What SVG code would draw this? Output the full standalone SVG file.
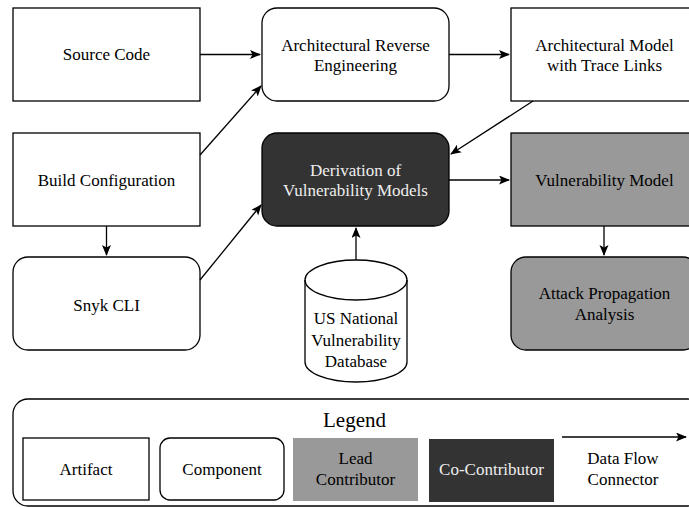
<svg xmlns="http://www.w3.org/2000/svg" width="689" height="507" viewBox="0 0 689 507">
<style>
.b{fill:#fff;stroke:#000;stroke-width:1.3}
.g{fill:#999;stroke:#000;stroke-width:1.3}
.d{fill:#333;stroke:#000;stroke-width:1.3}
.t{font-family:'Liberation Serif','DejaVu Serif',serif;font-size:17px;fill:#000;text-anchor:middle}
.lg{font-size:21px}
.w{fill:#eee}
.c{fill:none;stroke:#000;stroke-width:1.3}
</style>
<defs>
<marker id="ah" markerUnits="userSpaceOnUse" markerWidth="12" markerHeight="10" refX="10" refY="4.5" orient="auto">
<path d="M0,0 L11,4.5 L0,9 L2.5,4.5 Z" fill="#000"/>
</marker>
</defs>
<rect width="689" height="507" fill="#fff"/>
<g id="source-code"><rect class="b" x="13" y="8" width="187" height="93"/><text class="t" x="106.5" y="60">Source Code</text></g>
<g id="arch-re"><rect class="b" x="262" y="8" width="187" height="93" rx="15"/><text class="t" x="355.5" y="51">Architectural Reverse</text><text class="t" x="355.5" y="71">Engineering</text></g>
<g id="arch-model"><rect class="b" x="511" y="8" width="187" height="93"/><text class="t" x="604.5" y="51">Architectural Model</text><text class="t" x="604.5" y="71">with Trace Links</text></g>
<g id="build-config"><rect class="b" x="13" y="133" width="187" height="93"/><text class="t" x="106.5" y="186">Build Configuration</text></g>
<g id="derivation"><rect class="d" x="262" y="133" width="187" height="93" rx="15"/><text class="t w" x="355.5" y="176">Derivation of</text><text class="t w" x="355.5" y="196">Vulnerability Models</text></g>
<g id="vuln-model"><rect class="g" x="511" y="133" width="187" height="93"/><text class="t" x="604.5" y="186">Vulnerability Model</text></g>
<g id="snyk"><rect class="b" x="13" y="257" width="187" height="93" rx="15"/><text class="t" x="106.5" y="311">Snyk CLI</text></g>
<g id="attack"><rect class="g" x="511" y="257" width="187" height="93" rx="15"/><text class="t" x="604.5" y="299">Attack Propagation</text><text class="t" x="604.5" y="320">Analysis</text></g>
<g id="nvd"><path class="b" d="M305,280 A51,20 0 0 1 407,280 L407,362 A51,20 0 0 1 305,362 Z"/><path class="c" d="M305,280 A51,20 0 0 0 407,280"/><text class="t" x="356" y="324">US National</text><text class="t" x="356" y="346">Vulnerability</text><text class="t" x="356" y="367">Database</text></g>
<g id="connectors">
<line class="c" x1="200" y1="54.5" x2="260" y2="54.5" marker-end="url(#ah)"/>
<line class="c" x1="200" y1="155" x2="261" y2="86" marker-end="url(#ah)"/>
<line class="c" x1="106.5" y1="226" x2="106.5" y2="255" marker-end="url(#ah)"/>
<line class="c" x1="200" y1="280" x2="261" y2="205" marker-end="url(#ah)"/>
<line class="c" x1="449" y1="54.5" x2="509" y2="54.5" marker-end="url(#ah)"/>
<line class="c" x1="533" y1="101" x2="451" y2="154" marker-end="url(#ah)"/>
<line class="c" x1="449" y1="180" x2="509" y2="180" marker-end="url(#ah)"/>
<line class="c" x1="604" y1="226" x2="604" y2="255" marker-end="url(#ah)"/>
<line class="c" x1="356" y1="260" x2="356" y2="228" marker-end="url(#ah)"/>
</g>
<g id="legend">
<rect class="b" x="13" y="399" width="690" height="107" rx="15"/>
<text class="t lg" x="354.5" y="427">Legend</text>
<g id="legend-artifact"><rect class="b" x="23" y="438" width="126" height="62"/><text class="t" x="86" y="475">Artifact</text></g>
<g id="legend-component"><rect class="b" x="160" y="438" width="124" height="62" rx="10"/><text class="t" x="222" y="475">Component</text></g>
<g id="legend-lead"><rect x="293" y="438" width="125" height="63" fill="#999"/><text class="t" x="355.5" y="464">Lead</text><text class="t" x="355.5" y="485">Contributor</text></g>
<g id="legend-co"><rect x="429" y="439" width="125" height="63" fill="#333"/><text class="t w" x="491.5" y="475">Co-Contributor</text></g>
<g id="legend-flow"><line class="c" x1="562" y1="437" x2="686" y2="437" marker-end="url(#ah)"/><text class="t" x="623" y="464">Data Flow</text><text class="t" x="623" y="485">Connector</text></g>
</g>
</svg>
